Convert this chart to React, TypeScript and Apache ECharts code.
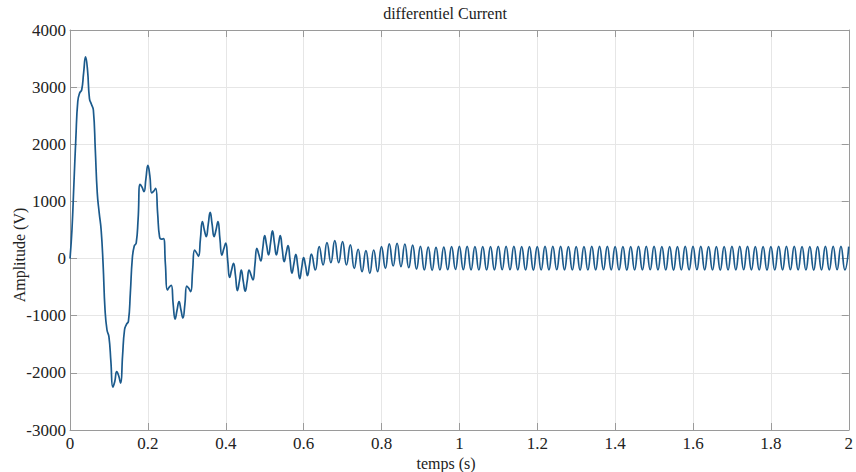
import React, { useEffect, useRef } from "react";
import * as echarts from "echarts";

const TITLE = "differentiel Current";
const X_NAME = "temps (s)";
const Y_NAME = "Amplitude (V)";

const X_MIN = 0;
const X_MAX = 2;
const X_STEP = 0.2;
const Y_MIN = -3000;
const Y_MAX = 4000;
const Y_STEP = 1000;

// Fault transient, sampled every 5 ms from 0 to 0.62 s
const TRANSIENT_START = 0;
const TRANSIENT_STEP = 0.005;
const transientValues = [
  0, 500, 1300, 2100, 2750, 2900, 2950, 3250, 3530, 3300,
  2800, 2700, 2600, 1900, 1150, 800, 500, -100, -900, -1250,
  -1370, -1800, -2250, -2150, -1980, -2050, -2180, -1700, -1250, -1150,
  -1100, -600, 0, 220, 270, 700, 1300, 1250, 1170, 1400,
  1630, 1450, 1150, 1180, 1230, 800, 380, 340, 350, -100,
  -550, -500, -470, -800, -1060, -900, -755, -900, -1040, -800,
  -480, -520, -580, -200, 150, 100, 40, 350, 645, 500,
  385, 600, 810, 600, 385, 500, 645, 350, 60, 170,
  270, -30, -330, -200, -82, -300, -560, -400, -200, -400,
  -570, -400, -200, -290, -375, -100, 180, 70, -42, 180,
  400, 230, 63, 270, 483, 270, 63, 230, 400, 170,
  -54, 90, 226, -15, -257, -90, 75, -135, -350, -165,
  16, -130, -300, -110, 80,
];

// Settling and steady 50 Hz ripple, sampled every 10 ms from 0.63 to 2 s
const STEADY_START = 0.63;
const STEADY_STEP = 0.01;
const steadyValues = [
  -200, 209, -112, 280, -72, 315, -72, 297, -112, 238,
  -170, 163, -229, 140, -258, 150, -229, 209, -170, 256,
  -130, 268, -140, 255, -160, 235, -185, 215, -200, 200,
  -205, 195, -200, 200, -195, 210, -190,
  215, -195, 212, -198, 210, -200, 208, -200, 210, -198,
  212, -196, 214, -195, 212, -198, 210, -200, 208, -202,
  210, -200, 212, -198, 214, -196, 212, -198, 210, -200,
  208, -202, 210, -200, 212, -198, 214, -196, 212, -198,
  210, -200, 208, -202, 210, -200, 212, -198, 214, -196,
  212, -198, 210, -200, 208, -202, 210, -200, 212, -198,
  214, -196, 212, -198, 210, -200, 208, -202, 210, -200,
  212, -198, 214, -196, 212, -198, 210, -200, 208, -202,
  210, -200, 212, -198, 214, -196, 212, -198, 210, -200,
  208, -202, 210, -200, 212, -198, 214, -196, 212, -198,
  210,
];

const FONT = "'Liberation Serif', 'Times New Roman', Times, serif";
const LINE_COLOR = "#1b5a8c";
const AXIS_COLOR = "#9a9a9a";
const GRID_COLOR = "#e6e6e6";
const TEXT_COLOR = "#222";

function buildSignal(): [number, number][] {
  const a = transientValues.map(
    (v, i) => [+(TRANSIENT_START + i * TRANSIENT_STEP).toFixed(4), v] as [number, number]
  );
  const b = steadyValues.map(
    (v, i) => [+(STEADY_START + i * STEADY_STEP).toFixed(4), v] as [number, number]
  );
  return [...a, ...b];
}

export default function App() {
  const ref = useRef<HTMLDivElement>(null);

  useEffect(() => {
    if (!ref.current) return;
    const chart = echarts.init(ref.current, undefined, { renderer: "svg" });

    const frameAxis = {
      axisLine: { show: true, onZero: false, lineStyle: { color: AXIS_COLOR, width: 1 } },
      axisTick: { show: true, inside: true, length: 7, lineStyle: { color: AXIS_COLOR } },
    };

    const labelStyle = {
      color: TEXT_COLOR,
      fontFamily: FONT,
      fontSize: 17,
    };

    const textStyleOf = (text: string) => ({
      text,
      font: `16px ${FONT}`,
      fill: TEXT_COLOR,
      textAlign: "center",
      textVerticalAlign: "middle",
    });

    chart.setOption({
      animation: false,
      backgroundColor: "#ffffff",
      textStyle: { fontFamily: FONT },
      grid: { left: 70, right: 2, top: 30, bottom: 42, containLabel: false },
      graphic: [
        { type: "text", x: 445, y: 13, style: textStyleOf(TITLE) },
        { type: "text", x: 446, y: 463, style: textStyleOf(X_NAME) },
        { type: "text", x: 19, y: 255, rotation: Math.PI / 2, style: textStyleOf(Y_NAME) },
      ],
      xAxis: [
        {
          type: "value",
          min: X_MIN,
          max: X_MAX,
          interval: X_STEP,
          position: "bottom",
          ...frameAxis,
          axisLabel: {
            ...labelStyle,
            margin: 5,
            formatter: (v: number) => String(Math.round(v * 10) / 10),
          },
          splitLine: { show: true, lineStyle: { color: GRID_COLOR, width: 1 } },
        },
        {
          type: "value",
          min: X_MIN,
          max: X_MAX,
          interval: X_STEP,
          position: "top",
          ...frameAxis,
          axisLabel: { show: false },
          splitLine: { show: false },
        },
      ],
      yAxis: [
        {
          type: "value",
          min: Y_MIN,
          max: Y_MAX,
          interval: Y_STEP,
          position: "left",
          ...frameAxis,
          axisLabel: {
            ...labelStyle,
            margin: 4,
            formatter: (v: number) => String(Math.round(v)),
          },
          splitLine: { show: true, lineStyle: { color: GRID_COLOR, width: 1 } },
        },
        {
          type: "value",
          min: Y_MIN,
          max: Y_MAX,
          interval: Y_STEP,
          position: "right",
          ...frameAxis,
          axisLabel: { show: false },
          splitLine: { show: false },
        },
      ],
      series: [
        {
          type: "line",
          xAxisIndex: 0,
          yAxisIndex: 0,
          data: buildSignal(),
          smooth: true,
          showSymbol: false,
          symbol: "none",
          clip: true,
          lineStyle: { color: LINE_COLOR, width: 1.7 },
        },
      ],
    });

    return () => chart.dispose();
  }, []);

  return (
    <div
      ref={ref}
      style={{ position: "fixed", left: 0, top: 0, width: 856, height: 472, background: "#fff" }}
    />
  );
}
